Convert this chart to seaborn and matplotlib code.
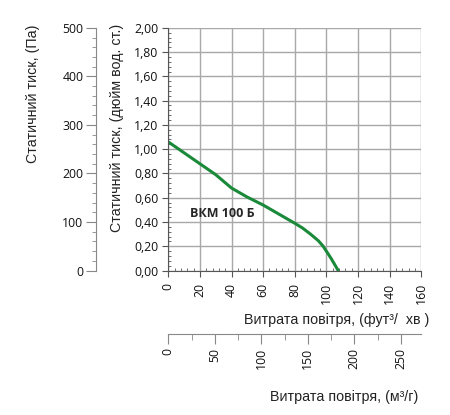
import matplotlib
matplotlib.use("Agg")
import matplotlib.pyplot as plt
import seaborn as sns
import pandas as pd
from matplotlib.ticker import MultipleLocator, FuncFormatter

# fan curve BKM 100 B
flow_cfm = [0, 10, 20, 30, 40, 50, 60, 70, 80, 85, 90, 95, 98, 103, 107.5]
press_inwg = [1.06, 0.97, 0.88, 0.79, 0.68, 0.605, 0.54, 0.465, 0.39, 0.35, 0.30, 0.245, 0.20, 0.10, 0.0]
model = "ВКМ 100 Б"

df = pd.DataFrame({"cfm": flow_cfm, "inwg": press_inwg})

sns.set_style("white")
plt.rcParams["font.family"] = ["Open Sans", "DejaVu Sans"]

fig = plt.figure(figsize=(4.5, 4.15), dpi=100)
ax = fig.add_axes([0.374, 0.348, 0.562, 0.585])

sns.lineplot(data=df, x="cfm", y="inwg", ax=ax, color="#1a8a3a", lw=2.2)
ax.text(34, 0.47, model, fontsize=9, fontweight="bold", ha="center", va="center")

ax.set_xlim(0, 160)
ax.set_ylim(0, 2.0)
ax.xaxis.set_major_locator(MultipleLocator(20))
ax.xaxis.set_minor_locator(MultipleLocator(4))
ax.yaxis.set_major_locator(MultipleLocator(0.2))
ax.yaxis.set_minor_locator(MultipleLocator(0.04))
ax.yaxis.set_major_formatter(FuncFormatter(lambda v, p: f"{v:.2f}".replace(".", ",")))
ax.grid(True, which="major", color="#a8a8a8", lw=1.0)
ax.set_axisbelow(True)
for s in ["top", "right"]:
    ax.spines[s].set_visible(False)
for s in ["left", "bottom"]:
    ax.spines[s].set_color("#555555")
    ax.spines[s].set_linewidth(0.8)
ax.tick_params(which="major", direction="out", length=4, color="#555555", labelsize=8.8,
               labelcolor="#111111", pad=3)
ax.tick_params(which="minor", direction="in", length=2.5, color="#555555")
ax.tick_params(axis="x", which="major", labelrotation=90, pad=5)
ax.set_xlabel("")
ax.set_ylabel("")

# Pa axis on the far left
ax_pa = ax.twinx()
ax_pa.set_ylim(0, 500)
for s in ["top", "right", "bottom"]:
    ax_pa.spines[s].set_visible(False)
ax_pa.spines["left"].set_visible(True)
ax_pa.spines["left"].set_position(("axes", -0.286))
ax_pa.spines["left"].set_color("#888888")
ax_pa.spines["left"].set_linewidth(0.8)
ax_pa.yaxis.set_ticks_position("left")
ax_pa.yaxis.set_major_locator(MultipleLocator(100))
ax_pa.yaxis.set_minor_locator(MultipleLocator(20))
ax_pa.tick_params(which="major", direction="out", length=7, color="#888888", labelsize=8.8,
                  labelcolor="#111111", pad=2)
ax_pa.tick_params(which="minor", direction="out", length=3, color="#888888")

# m3/h axis below
ax_m3 = ax.twiny()
ax_m3.set_xlim(0, 160 * 1.699)
for s in ["top", "right", "left"]:
    ax_m3.spines[s].set_visible(False)
ax_m3.spines["bottom"].set_visible(True)
ax_m3.spines["bottom"].set_position(("axes", -0.262))
ax_m3.spines["bottom"].set_color("#888888")
ax_m3.spines["bottom"].set_linewidth(0.8)
ax_m3.xaxis.set_ticks_position("bottom")
ax_m3.xaxis.set_major_locator(MultipleLocator(50))
ax_m3.xaxis.set_minor_locator(MultipleLocator(25))
ax_m3.tick_params(which="major", direction="out", length=7, color="#888888", labelsize=8.8,
                  labelcolor="#111111", labelrotation=90, pad=3)
ax_m3.tick_params(which="minor", direction="out", length=4, color="#888888")

lab = dict(family=["Liberation Sans", "DejaVu Sans"], fontsize=10.3, color="#222222")
fig.text(33 / 450, 1 - 94 / 415, "Статичний тиск, (Па)", rotation=90, ha="center", va="center", **lab)
fig.text(117 / 450, 1 - 128 / 415, "Статичний тиск, (дюйм вод. ст.)", rotation=90, ha="center", va="center", **lab)
fig.text(429 / 450, 1 - 320 / 415, "Витрата повітря, (фут³/  хв )", ha="right", va="center", **lab)
fig.text(418 / 450, 1 - 397 / 415, "Витрата повітря, (м³/г)", ha="right", va="center", **lab)

fig.savefig("out.png", dpi=100)
